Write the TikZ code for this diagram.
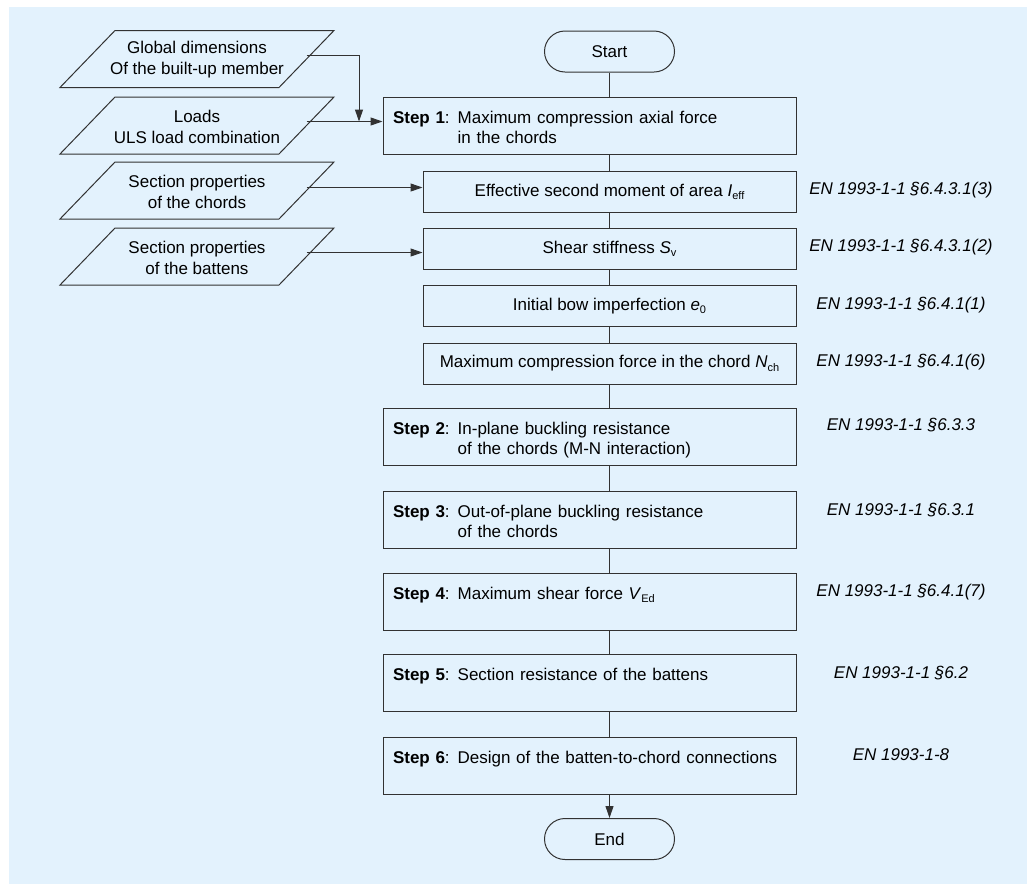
\documentclass[tikz,border=0pt]{standalone}
\usepackage{fontspec}
\setmainfont{Liberation Sans}
\usetikzlibrary{arrows.meta,shapes.misc}
\definecolor{bgc}{RGB}{227,242,253}
\definecolor{lnc}{RGB}{50,50,50}
\newcommand\sbs[1]{\raisebox{-0.35ex}{\fontsize{11}{11}\selectfont #1}}
\newcommand\steptext[3]{\begin{tabular}{@{}l@{\hspace{8pt}}l@{}}\noalign{\vskip7pt}\textbf{Step #1}: & #2\\ & #3\end{tabular}}
\begin{document}
\begin{tikzpicture}[x=1pt,y=-1pt,
  font=\fontsize{17}{20}\selectfont,
  ln/.style={draw=lnc, line width=1pt},
  term/.style={rounded rectangle, ln, minimum width=130pt, minimum height=41pt, inner sep=0pt},
  stepbox/.style={rectangle, ln, minimum width=413pt, minimum height=57pt, text width=393pt, inner xsep=10pt, inner ysep=0pt, align=left},
  subbox/.style={rectangle, ln, minimum width=373pt, minimum height=41pt, inner sep=0pt},
  databox/.style={rectangle, inner sep=0pt, align=center, font=\fontsize{17}{21}\selectfont},
  para/.style={ln},
  ref/.style={font=\fontsize{17}{20}\selectfont\itshape, inner sep=0pt},
  arr/.style={ln, -{Triangle[length=12pt,width=8pt]}},
  conn/.style={ln}]
\fill[bgc] (9,7) rectangle (1027,884);
\useasboundingbox (0,0) rectangle (1027,884);

% main column
\node[term] (start) at (609.5,51.5) {Start};
\node[stepbox] (s1) at (589.5,125.5) {\steptext{1}{Maximum compression axial force}{in the chords}};
\node[subbox] (eff) at (609.5,191.5) {Effective second moment of area \textit{I}\sbs{eff}};
\node[subbox] (shear) at (609.5,248.5) {Shear stiffness \textit{S}\sbs{v}};
\node[subbox] (init) at (609.5,306) {Initial bow imperfection \textit{e}\sbs{0}};
\node[subbox] (maxc) at (609.5,363.5) {Maximum compression force in the chord \textit{N}\sbs{ch}};
\node[stepbox] (s2) at (589.5,437) {\steptext{2}{In-plane buckling resistance}{of the chords (M-N interaction)}};
\node[stepbox] (s3) at (589.5,519.5) {\steptext{3}{Out-of-plane buckling resistance}{of the chords}};
\node[stepbox] (s4) at (589.5,601.5) {\steptext{4}{Maximum shear force \textit{V}\sbs{Ed}}{}};
\node[stepbox] (s5) at (589.5,683) {\steptext{5}{Section resistance of the battens}{}};
\node[stepbox] (s6) at (589.5,765.5) {\steptext{6}{Design of the batten-to-chord connections}{}};
\node[term] (end) at (609.5,839) {End};

% input data
\node[databox] (p1) at (197,60) {Global dimensions\\Of the built-up member};
\node[databox] (p2) at (197,126.5) {Loads\\ULS load combination};
\node[databox] (p3) at (197,191.5) {Section properties\\of the chords};
\node[databox] (p4) at (197,257.5) {Section properties\\of the battens};
\foreach \p in {p1,p2,p3,p4}{
  \draw[para] (\p.center) ++(-137,27.5) -- ++(219,0) -- ++(55,-57) -- ++(-219,0) -- cycle;
}

% references
\node[ref] (r1) at (901,190) {EN 1993-1-1 §6.4.3.1(3)};
\node[ref] (r2) at (901,247) {EN 1993-1-1 §6.4.3.1(2)};
\node[ref] (r3) at (901,305) {EN 1993-1-1 §6.4.1(1)};
\node[ref] (r4) at (901,362) {EN 1993-1-1 §6.4.1(6)};
\node[ref] (r5) at (901,425) {EN 1993-1-1 §6.3.3};
\node[ref] (r6) at (901,510) {EN 1993-1-1 §6.3.1};
\node[ref] (r7) at (901,592) {EN 1993-1-1 §6.4.1(7)};
\node[ref] (r8) at (901,673) {EN 1993-1-1 §6.2};
\node[ref] (r9) at (901,755) {EN 1993-1-8};

% input arrows
\coordinate (j) at (359,121.5);
\draw[arr] ([xshift=109.5pt,yshift=5pt]p1.center) -| (j);
\draw[arr] ([xshift=109.5pt,yshift=5pt]p2.center) -- ([yshift=4pt]s1.west);
\draw[arr] ([xshift=109.5pt,yshift=4pt]p3.center) -- ([yshift=4pt]eff.west);
\draw[arr] ([xshift=109.5pt,yshift=5pt]p4.center) -- ([yshift=-4pt]shear.west);

% vertical connectors
\draw[conn] (start.south) -- (start.south |- s1.north);
\draw[conn] (s1.south -| eff.north) -- (eff.north);
\draw[conn] (eff.south) -- (shear.north);
\draw[conn] (shear.south) -- (init.north);
\draw[conn] (init.south) -- (maxc.north);
\draw[conn] (maxc.south) -- (maxc.south |- s2.north);
\draw[conn] (s2.south -| end.north) -- (s3.north -| end.north);
\draw[conn] (s3.south -| end.north) -- (s4.north -| end.north);
\draw[conn] (s4.south -| end.north) -- (s5.north -| end.north);
\draw[conn] (s5.south -| end.north) -- (s6.north -| end.north);
\draw[arr] (s6.south -| end.north) -- (end.north);
\end{tikzpicture}
\end{document}
